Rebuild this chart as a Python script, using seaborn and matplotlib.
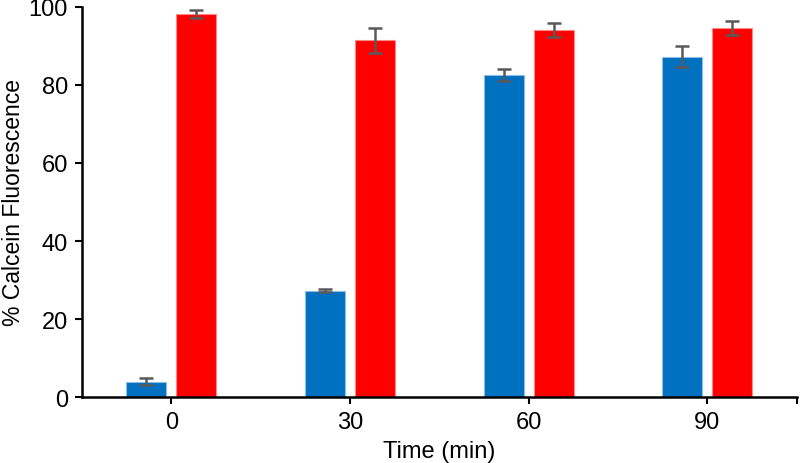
import matplotlib
matplotlib.use("Agg")
import matplotlib.pyplot as plt
import seaborn as sns
import pandas as pd
import numpy as np

times = ["0", "30", "60", "90"]
groups = ["A", "B"]
blue_vals = [3.9, 27.3, 82.6, 87.2]
blue_err = [0.9, 0.5, 1.6, 2.7]
red_vals = [98.2, 91.5, 94.1, 94.6]
red_err = [1.1, 3.2, 1.8, 1.8]

sns.set_theme(style="white")
plt.rcParams['font.family'] = ['Liberation Sans', 'DejaVu Sans']

df = pd.DataFrame({
    "time": times * 2,
    "group": [groups[0]] * 4 + [groups[1]] * 4,
    "value": blue_vals + red_vals,
    "err": blue_err + red_err,
})

fig = plt.figure(figsize=(8, 4.64), dpi=100)
ax = fig.add_axes([0.1025, 0.1422, 0.8935, 0.8406])
sns.barplot(data=df, x="time", y="value", hue="group", order=times, hue_order=groups,
            palette=["#0070C0", "#FF0000"], saturation=1, width=0.56, gap=0.2, dodge=True,
            errorbar=None, legend=False, ax=ax, linewidth=0.8)
for cont, ec in zip(ax.containers, ["#8fbde6", "#ff8a8a"]):
    for p in cont:
        p.set_edgecolor(ec)

# error bars
for cont, errs in zip(ax.containers, [blue_err, red_err]):
    for rect, e in zip(cont, errs):
        xc = rect.get_x() + rect.get_width() / 2
        ax.errorbar(xc, rect.get_height(), yerr=e, color="#595959", capsize=5,
                    elinewidth=1.8, capthick=1.8, fmt="none", zorder=5)

ax.set_xlim(-0.5, 3.5)
ax.set_ylim(0, 100)
ax.set_yticks([0, 20, 40, 60, 80, 100])
ax.set_xticks([0, 1, 2, 3, 3.5])
ax.set_xticklabels(times + [""])
ax.tick_params(axis="both", direction="out", length=5, width=1.5, color="black",
               labelsize=17, bottom=True, left=True, pad=5, labelcolor="black")
for s in ["top", "right"]:
    ax.spines[s].set_visible(False)
for s in ["left", "bottom"]:
    ax.spines[s].set_color("black")
    ax.spines[s].set_linewidth(1.8)
ax.set_xlabel("Time (min)", fontsize=17, labelpad=5, color="black")
ax.set_ylabel("% Calcein Fluorescence", fontsize=16.5, labelpad=3, color="black")
fig.savefig("out.png", dpi=100)
